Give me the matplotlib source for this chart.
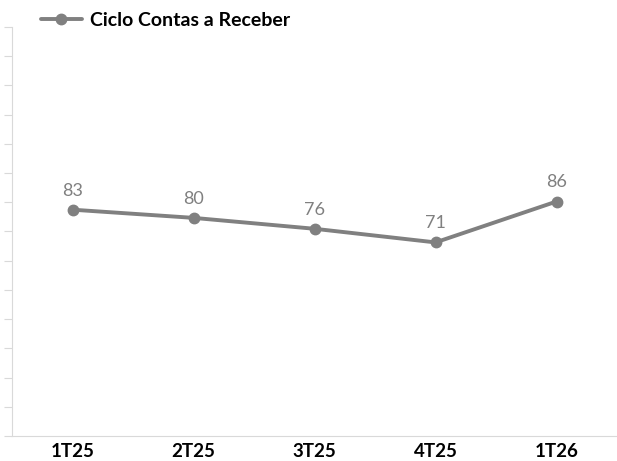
import numpy as np
import matplotlib.pyplot as plt

quarters = ['1T25', '2T25', '3T25', '4T25', '1T26']
ciclo = [83, 80, 76, 71, 86]

gray = '#808080'
grid_gray = '#d9d9d9'

fig = plt.figure(figsize=(6.17, 4.61), dpi=100)
ax = fig.add_axes([12/617, 1 - 436/461, 605/617, 409/461])

x = np.arange(len(quarters))
ax.plot(x, ciclo, color=gray, lw=2.8, marker='o', ms=7.5,
        label='Ciclo Contas a Receber', solid_capstyle='round')

for xi, v in zip(x, ciclo):
    ax.annotate(str(v), (xi, v), xytext=(0, 8), textcoords='offset points',
                ha='center', va='bottom', fontsize=13, color=gray,
                family='Lato')

ax.set_xlim(-0.5, len(quarters) - 0.5)
ax.set_ylim(0, 150)
ax.set_yticks(np.linspace(0, 150, 15))
ax.set_yticklabels([])
ax.tick_params(axis='y', length=6, color=grid_gray, direction='out')
ax.set_xticks(x)
ax.set_xticklabels(quarters, fontsize=13.5, fontweight='bold', family='Lato')
ax.tick_params(axis='x', length=0, pad=5)

for s in ['top', 'right']:
    ax.spines[s].set_visible(False)
ax.spines['left'].set_color(grid_gray)
ax.spines['bottom'].set_color(grid_gray)

fig.legend(loc='upper left', bbox_to_anchor=(41/617, 1 - 12/461), frameon=False,
           prop={'family': 'Lato', 'weight': 'bold', 'size': 14},
           handlelength=2.1, handletextpad=0.4, borderaxespad=0, borderpad=0)

fig.savefig('out.png', dpi=100)
